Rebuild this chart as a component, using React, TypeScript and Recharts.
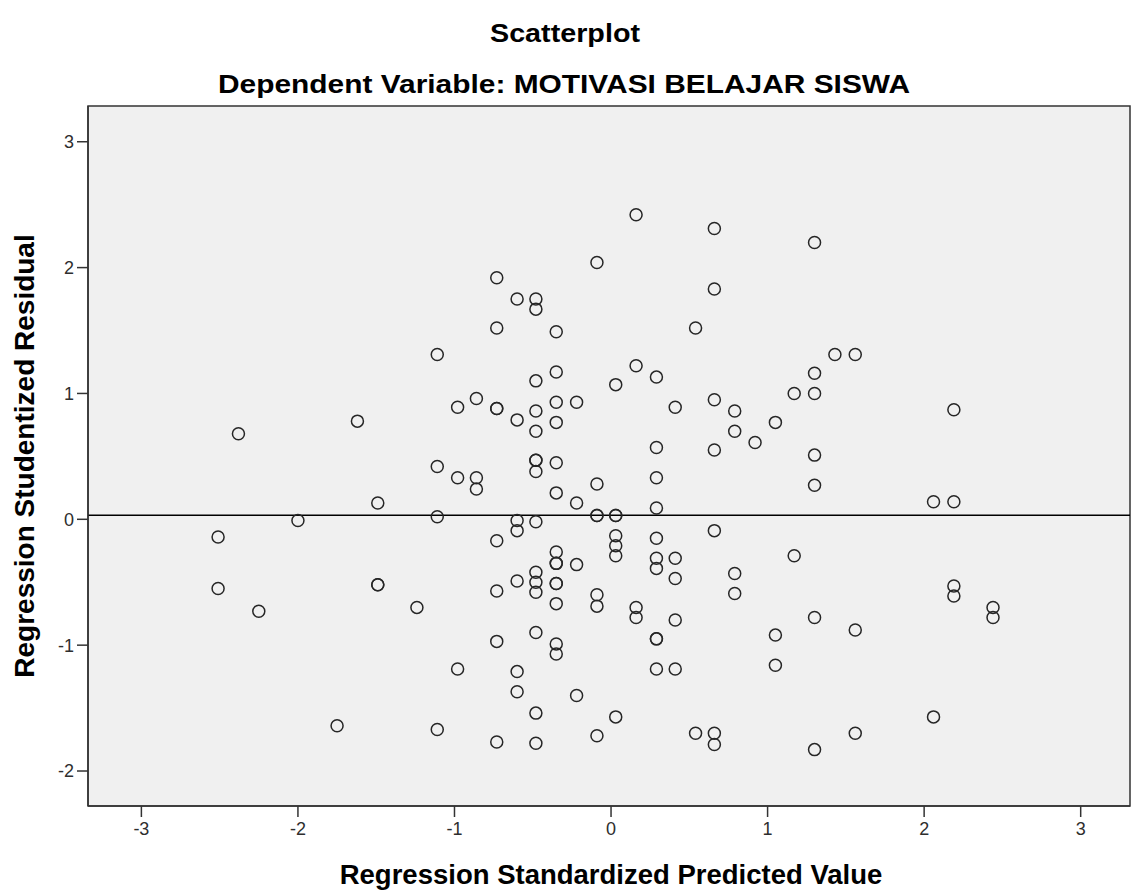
import React from 'react';
import {
  ScatterChart,
  Scatter,
  XAxis,
  YAxis,
  CartesianGrid,
  ReferenceLine,
  ReferenceArea,
  Label,
} from 'recharts';

// predicted value levels (x) and the studentized residuals found at each level
const predictedLevels = [
  -2.51, -2.38, -2.25, -2.0, -1.75, -1.62, -1.49, -1.24, -1.11, -0.98, -0.86,
  -0.73, -0.6, -0.48, -0.35, -0.22, -0.09, 0.03, 0.16, 0.29, 0.41, 0.54, 0.66,
  0.79, 0.92, 1.05, 1.17, 1.3, 1.43, 1.56, 2.06, 2.19, 2.44,
];

const residualGroups = [
  [-0.14, -0.55],
  [0.68],
  [-0.73],
  [-0.01],
  [-1.64],
  [0.78],
  [0.13, -0.52, -0.52],
  [-0.7],
  [1.31, 0.42, 0.02, -1.67],
  [0.89, 0.33, -1.19],
  [0.96, 0.33, 0.24],
  [1.92, 1.52, 0.88, 0.88, -0.17, -0.57, -0.97, -1.77],
  [1.75, 0.79, -0.01, -0.09, -0.49, -1.21, -1.37],
  [1.75, 1.67, 1.1, 0.86, 0.7, 0.47, 0.47, 0.38, -0.02, -0.42, -0.5, -0.58, -0.9, -1.54, -1.78],
  [1.49, 1.17, 0.93, 0.77, 0.45, 0.21, -0.26, -0.35, -0.35, -0.51, -0.51, -0.67, -0.99, -1.07],
  [0.93, 0.13, -0.36, -1.4],
  [2.04, 0.28, 0.03, 0.03, -0.6, -0.69, -1.72],
  [1.07, 0.03, 0.03, -0.13, -0.21, -0.29, -1.57],
  [2.42, 1.22, -0.7, -0.78],
  [1.13, 0.57, 0.33, 0.09, -0.15, -0.31, -0.39, -0.95, -0.95, -1.19],
  [0.89, -0.31, -0.47, -0.8, -1.19],
  [1.52, -1.7],
  [2.31, 1.83, 0.95, 0.55, -0.09, -1.7, -1.79],
  [0.86, 0.7, -0.43, -0.59],
  [0.61],
  [0.77, -0.92, -1.16],
  [1.0, -0.29],
  [2.2, 1.16, 1.0, 0.51, 0.27, -0.78, -1.83],
  [1.31],
  [1.31, -0.88, -1.7],
  [0.14, -1.57],
  [0.87, 0.14, -0.53, -0.61],
  [-0.7, -0.78],
];

const xTicks = [-3, -2, -1, 0, 1, 2, 3];
const yTicks = [-2, -1, 0, 1, 2, 3];
const xDomain = [-3.341, 3.315];
const yDomain = [-2.278, 3.284];
const fitLineY = 0.033;

const points = predictedLevels.flatMap((x, i) =>
  residualGroups[i].map((y) => ({ x, y }))
);

const tickFont = "'Liberation Sans Narrow', 'Liberation Sans', Arial, sans-serif";
const labelFont = "'Liberation Sans', Arial, sans-serif";

const OpenCircle = (props: any) => {
  const { cx, cy } = props;
  return <circle cx={cx} cy={cy} r={6} fill="none" stroke="#262626" strokeWidth={1.5} />;
};

export default function App() {
  return (
    <div style={{ position: 'absolute', left: 0, top: 0, width: 1133, height: 890, background: '#fff' }}>
      <svg width={1133} height={100} style={{ position: 'absolute', left: 0, top: 0 }}>
        <text
          x={565}
          y={42}
          textAnchor="middle"
          fontFamily={tickFont}
          fontSize={25}
          fontWeight="bold"
          fill="#000"
          textLength={150}
          lengthAdjust="spacingAndGlyphs"
        >
          Scatterplot
        </text>
        <text
          x={564}
          y={93}
          textAnchor="middle"
          fontFamily={tickFont}
          fontSize={25}
          fontWeight="bold"
          fill="#000"
          textLength={692}
          lengthAdjust="spacingAndGlyphs"
        >
          Dependent Variable: MOTIVASI BELAJAR SISWA
        </text>
      </svg>
      <div style={{ position: 'absolute', left: 0, top: 0 }}>
        <ScatterChart
          width={1133}
          height={890}
          margin={{ top: 106, right: 3, left: 28, bottom: 44 }}
        >
          <CartesianGrid horizontal={false} vertical={false} fill="#f0f0f0" />
          <XAxis
            type="number"
            dataKey="x"
            domain={xDomain}
            ticks={xTicks}
            allowDataOverflow
            height={40}
            tickSize={11}
            tickMargin={5}
            stroke="#333"
            fontSize={18}
            fontFamily={tickFont}
            axisLine={{ stroke: '#333', strokeWidth: 1.5 }}
            tickLine={{ stroke: '#333', strokeWidth: 1.5 }}
            tick={{ fontSize: 18, fill: '#2e2e2e', fontFamily: tickFont }}
          >
            <Label
              content={({ viewBox }: any) => (
                <text
                  x={viewBox.x + viewBox.width / 2 + 2}
                  y={884}
                  textAnchor="middle"
                  fontFamily={labelFont}
                  fontSize={27.5}
                  fontWeight="bold"
                  fill="#000"
                >
                  Regression Standardized Predicted Value
                </text>
              )}
            />
          </XAxis>
          <YAxis
            type="number"
            dataKey="y"
            domain={yDomain}
            ticks={yTicks}
            allowDataOverflow
            width={60}
            tickSize={11}
            tickMargin={3}
            stroke="#333"
            fontSize={18}
            fontFamily={tickFont}
            axisLine={{ stroke: '#333', strokeWidth: 1.5 }}
            tickLine={{ stroke: '#333', strokeWidth: 1.5 }}
            tick={{ fontSize: 18, fill: '#2e2e2e', fontFamily: tickFont }}
          >
            <Label
              content={() => (
                <text
                  x={34}
                  y={456}
                  transform="rotate(-90, 34, 456)"
                  textAnchor="middle"
                  fontFamily={labelFont}
                  fontSize={28}
                  fontWeight="bold"
                  fill="#000"
                >
                  Regression Studentized Residual
                </text>
              )}
            />
          </YAxis>
          <ReferenceArea
            x1={xDomain[0]}
            x2={xDomain[1]}
            y1={yDomain[0]}
            y2={yDomain[1]}
            fill="none"
            stroke="#333"
            strokeWidth={1.5}
            ifOverflow="visible"
          />
          <ReferenceLine y={fitLineY} stroke="#000" strokeWidth={1.5} />
          <Scatter data={points} shape={OpenCircle} isAnimationActive={false} />
        </ScatterChart>
      </div>
    </div>
  );
}
